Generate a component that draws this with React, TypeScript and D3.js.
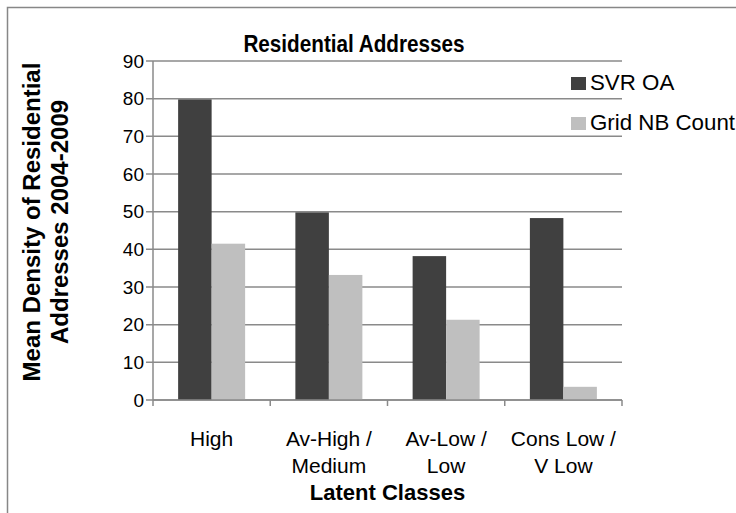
import React from 'react';
import * as d3 from 'd3';

const categories = [['High'], ['Av-High /', 'Medium'], ['Av-Low /', 'Low'], ['Cons Low /', 'V Low']];
const seriesNames = ['SVR OA', 'Grid NB Count'];
const svrOa = [79.8, 49.8, 38.2, 48.3];
const gridNb = [41.5, 33.2, 21.3, 3.5];
const yTicks = [0, 10, 20, 30, 40, 50, 60, 70, 80, 90];

const colors = ['#404040', '#bfbfbf'];
const W = 736;
const H = 513;
const margin = { left: 153, right: 114, top: 61, bottom: 113 };
const font = 'Arial, "Liberation Sans", sans-serif';

const App: React.FC = () => {
  const innerW = W - margin.left - margin.right;
  const innerH = H - margin.top - margin.bottom;

  const x = d3.scaleBand<number>()
    .domain(d3.range(categories.length))
    .range([0, innerW]);

  // gap width 150% like Excel
  const barW = x.bandwidth() / 3.5;
  const y = d3.scaleLinear().domain([0, 90]).range([innerH, 0]);
  const series = [svrOa, gridNb];

  return (
    <svg width={W} height={H} style={{ position: 'absolute', left: 0, top: 0, background: '#fff' }}>
      <rect x={7.5} y={7.5} width={W} height={H} fill="none" stroke="#878787" strokeWidth={1.5} />

      <g transform="translate(354,52) scale(0.9,1)">
        <text x={0} y={0} textAnchor="middle" fontFamily={font} fontWeight="bold" fontSize={23}>
          Residential Addresses
        </text>
      </g>

      <g transform="translate(40,222) rotate(-90)">
        <text x={0} y={0} textAnchor="middle" fontFamily={font} fontWeight="bold" fontSize={24}>
          Mean Density of Residential
        </text>
        <text x={0} y={28} textAnchor="middle" fontFamily={font} fontWeight="bold" fontSize={24}>
          Addresses 2004-2009
        </text>
      </g>

      <g transform={`translate(${margin.left},${margin.top})`}>
        {yTicks.map(t => (
          <g key={t}>
            <line x1={-7} x2={innerW} y1={y(t)} y2={y(t)} stroke="#8a8a8a" strokeWidth={1.5} />
            <text x={-9} y={y(t)} dy="0.35em" textAnchor="end" fontFamily={font} fontSize={19}>
              {t}
            </text>
          </g>
        ))}

        {series.map((vals, si) =>
          vals.map((v, i) => (
            <rect
              key={`${si}-${i}`}
              x={(x(i) || 0) + barW * 0.75 + si * barW}
              y={y(v)}
              width={barW}
              height={y(0) - y(v)}
              fill={colors[si]}
            />
          ))
        )}

        <line x1={0} x2={0} y1={0} y2={innerH} stroke="#8a8a8a" strokeWidth={1.5} />
        <line x1={0} x2={innerW} y1={innerH} y2={innerH} stroke="#8a8a8a" strokeWidth={1.5} />
        {d3.range(categories.length + 1).map(i => {
          const tx = i * x.step();
          return <line key={i} x1={tx} x2={tx} y1={innerH} y2={innerH + 6} stroke="#8a8a8a" strokeWidth={1.5} />;
        })}

        {categories.map((lines, i) => (
          <text key={i} textAnchor="middle" fontFamily={font} fontSize={21}>
            {lines.map((l, j) => (
              <tspan key={j} x={(x(i) || 0) + x.bandwidth() / 2} y={innerH + 46 + j * 27}>
                {l}
              </tspan>
            ))}
          </text>
        ))}

        <text x={innerW / 2} y={innerH + 100} textAnchor="middle" fontFamily={font} fontWeight="bold" fontSize={22}>
          Latent Classes
        </text>
      </g>

      {seriesNames.map((n, i) => (
        <g key={n} transform={`translate(571,${77 + i * 40})`}>
          <rect x={0} y={0} width={15} height={13} fill={colors[i]} />
          <text x={19} y={13} fontFamily={font} fontSize={22.3}>
            {n}
          </text>
        </g>
      ))}
    </svg>
  );
};

export default App;
